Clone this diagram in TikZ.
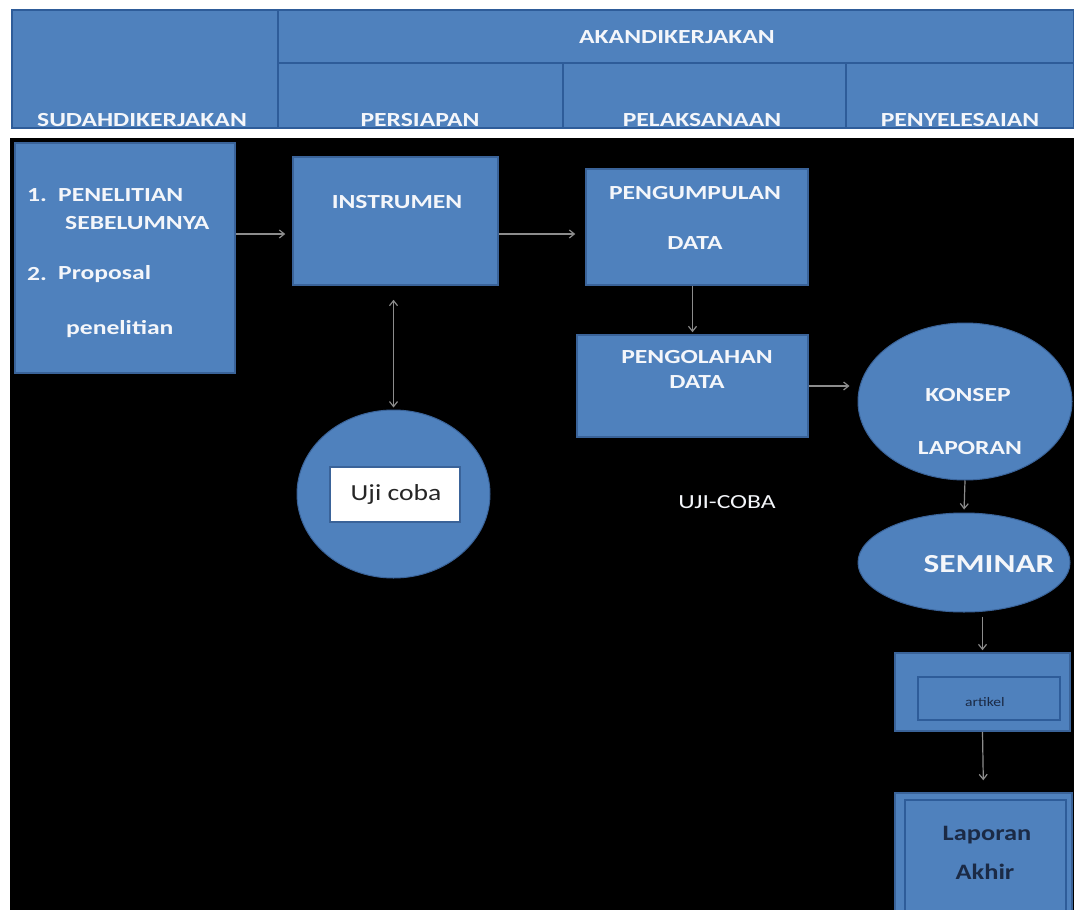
\documentclass[tikz,border=0pt]{standalone}
\usepackage{fontspec}
\setmainfont{Carlito}
\newfontfamily\wf[FakeStretch=1.28]{Carlito}
\newfontfamily\wfa[FakeStretch=1.2]{Carlito}
\usetikzlibrary{shapes.geometric,arrows.meta,calc}
\definecolor{bfill}{HTML}{4F81BD}
\definecolor{bline}{HTML}{3A6399}
\definecolor{hline}{HTML}{2E5C99}
\definecolor{arrc}{HTML}{8C8C8C}
\definecolor{wtxt}{HTML}{F4F6FA}
\definecolor{dtxt}{HTML}{1B2A45}
\tikzset{
  hcell/.style={draw=hline, line width=1.2pt, fill=bfill, inner sep=0, rectangle},
  bbox/.style={draw=bline, line width=1.5pt, fill=bfill, inner sep=0, rectangle},
  bell/.style={draw=bline, line width=1pt, fill=bfill, inner sep=0, ellipse},
  wt/.style={text=wtxt, font=\wf\bfseries\fontsize{20}{24}\selectfont, inner sep=0},
  wtr/.style={text=wtxt, font=\wf\fontsize{20}{24}\selectfont, inner sep=0},
  dt/.style={text=dtxt, font=\wfa\bfseries\fontsize{22}{26}\selectfont, inner sep=0},
  arr/.style={draw=arrc, line width=1.2pt, -{Straight Barb[length=5pt,width=8pt]}},
  darr/.style={draw=arrc, line width=1.2pt, {Straight Barb[length=5pt,width=8pt]}-{Straight Barb[length=5pt,width=8pt]}}
}
\begin{document}
\begin{tikzpicture}[x=1pt,y=-1pt]
\useasboundingbox (0,0) rectangle (1074,910);
\fill[white] (0,0) rectangle (1074,910);
\fill[black] (10,138) rectangle (1074,910);
% header
\node[hcell, minimum width=266, minimum height=118] (hL) at (145,69) {};
\node[hcell, minimum width=796, minimum height=53] (hT) at (676,36.5) {};
\node[hcell, minimum width=285, minimum height=65] (hP) at (420.5,95.5) {};
\node[hcell, minimum width=283, minimum height=65] (hL2) at (704.5,95.5) {};
\node[hcell, minimum width=228, minimum height=65] (hS) at (960,95.5) {};
\node[wt] (tAk) at (677,37) {AKANDIKERJAKAN};
\node[wt] (tSu) at (142,120) {SUDAHDIKERJAKAN};
\node[wt] (tPe) at (420,120) {PERSIAPAN};
\node[wt] (tPl) at (702,120) {PELAKSANAAN};
\node[wt] (tPy) at (960,120) {PENYELESAIAN};
% boxes
\node[bbox, minimum width=220, minimum height=230] (box1) at (125,258) {};
\node[wt, anchor=west] (n1) at (27,195) {1.};
\node[wt, anchor=west] (t1a) at (58,195) {PENELITIAN};
\node[wt, anchor=west] (t1b) at (65,223) {SEBELUMNYA};
\node[wt, anchor=west] (n2) at (27,274) {2.};
\node[wt, anchor=west] (t2a) at (58,274) {Proposal};
\node[wt, anchor=west] (t2b) at (66,329) {penelitian};
\node[bbox, minimum width=205, minimum height=128] (instr) at (395.5,221) {};
\node[wt] (tin) at (397,202) {INSTRUMEN};
\node[bbox, minimum width=222, minimum height=116] (pump) at (697,227) {};
\node[wt] (tpu1) at (695,193) {PENGUMPULAN};
\node[wt] (tpu2) at (695,243) {DATA};
\node[bbox, minimum width=231, minimum height=102] (pol) at (692.5,386) {};
\node[wt] (tpo1) at (697,357) {PENGOLAHAN};
\node[wt] (tpo2) at (697,382) {DATA};
\node[bell, minimum width=214, minimum height=157] (konsep) at (965,401.5) {};
\node[wt] (tk1) at (968,395) {KONSEP};
\node[wt] (tk2) at (970,448) {LAPORAN};
\node[bell, minimum width=212, minimum height=99] (sem) at (964,562.5) {};
\node[wt, font=\wf\bfseries\fontsize{26}{30}\selectfont] (tsem) at (989,564) {SEMINAR};
\node[bell, minimum width=193, minimum height=168] (uji) at (393.5,494) {};
\node[draw=bline, line width=1.2pt, fill=white, minimum width=130, minimum height=55, inner sep=0] (ujiw) at (395,494.5) {};
\node[text=black!85, font=\wfa\fontsize{23}{27}\selectfont, inner sep=0] (tuji) at (396,494) {Uji coba};
\node[wtr] (tuc) at (727,502) {UJI-COBA};
% artikel
\node[bbox, minimum width=175, minimum height=78] (artO) at (982.5,692) {};
\node[draw=hline, line width=1.6pt, fill=bfill, minimum width=142, minimum height=43, inner sep=0] (artI) at (989,698.5) {};
\node[text=dtxt, font=\wfa\fontsize{13}{15}\selectfont, inner sep=0] (tart) at (985,702) {artikel};
% laporan akhir
\node[bbox, minimum width=177, minimum height=119] (lapO) at (983.5,852.5) {};
\node[draw=hline, line width=1.2pt, minimum width=161, minimum height=112, inner sep=0] (lapI) at (985.5,856) {};
\node[dt] (tl1) at (987,835) {Laporan};
\node[dt] (tl2) at (985,872) {Akhir};
% connectors
\draw[arr, shorten >=7pt] ([yshift=24pt]box1.east) -- ([yshift=-13pt]instr.west);
\draw[arr, shorten >=10pt] ([yshift=-13pt]instr.east) -- ([yshift=-7pt]pump.west);
\draw[arr, shorten >=2pt] (pol.north |- pump.south) -- (pol.north);
\draw[arr, shorten >=8pt] (pol.east) -- (pol.east -| konsep.west);
\draw[arr, shorten >=3pt] (konsep.south) -- (sem.north);
\draw[arr, shorten <=4pt, shorten >=2pt] (artO.north |- sem.south) -- (artO.north);
\draw[arr, shorten >=12pt] (artO.south) -- (lapO.north);
\draw[darr, shorten <=14pt, shorten >=2pt] (instr.south -| uji.north) -- (uji.north);
\end{tikzpicture}
\end{document}
